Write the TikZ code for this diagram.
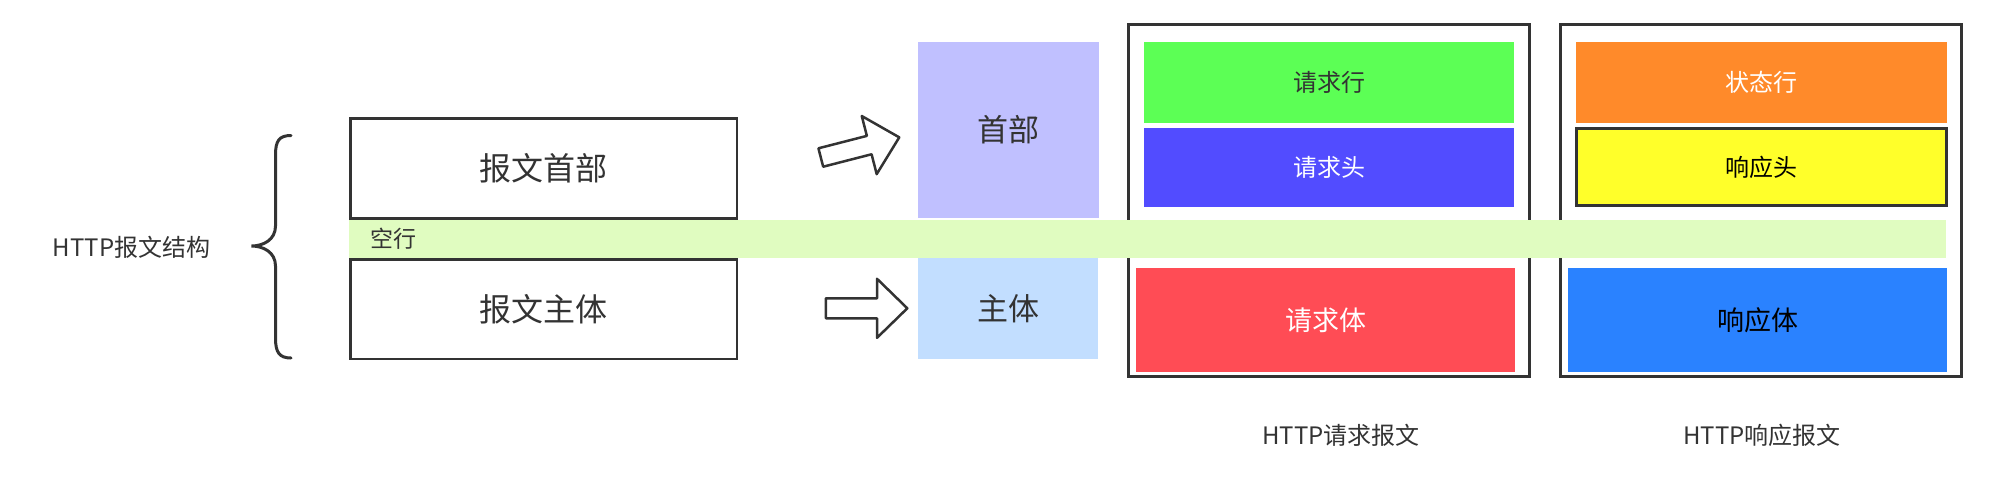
\documentclass[tikz,border=0pt]{standalone}
\usepackage{fontspec}
\newfontfamily\cjk{Noto Sans CJK SC}
\definecolor{ink}{HTML}{333333}
\definecolor{cGreen}{HTML}{5CFF55}
\definecolor{cBlue}{HTML}{524CFF}
\definecolor{cRed}{HTML}{FF4C55}
\definecolor{cOrange}{HTML}{FF8A2A}
\definecolor{cYellow}{HTML}{FFFF2A}
\definecolor{cResp}{HTML}{2A82FF}
\definecolor{cHead}{HTML}{C0C0FF}
\definecolor{cBody}{HTML}{C2DEFF}
\definecolor{cBand}{HTML}{E0FCC0}
\tikzset{
  cn/.style={font=\cjk\fontsize{#1pt}{#1pt}\selectfont, text=ink},
  sz/.style 2 args={minimum width=#1pt, minimum height=#2pt, inner sep=0pt, outer sep=0pt},
  whitebox/.style={draw=ink, line width=2.5pt, fill=white},
  msgframe/.style={draw=ink, line width=3pt},
  colpart/.style={fill=#1, draw=none},
  hollowarrow/.style={draw=ink, line width=2.5pt, fill=white, line join=round},
  bracepath/.style={draw=ink, line width=3pt, line cap=round},
}
\begin{document}
\begin{tikzpicture}[x=1pt,y=-1pt]
\useasboundingbox[fill=white] (0,0) rectangle (2012,496);
% left structure
\node[whitebox, sz={386.5}{99.6}, cn=32] (hdr) at (543.8,168.5) {报文首部};
\node[whitebox, sz={386.5}{99.5}, cn=32] (body) at (543.8,309) {报文主体};
% header / body blocks
\node[colpart=cHead, sz={181}{176.6}, cn=31] (head) at (1008.2,130) {首部};
\node[colpart=cBody, sz={180}{101.3}, cn=31] (main) at (1008,308.7) {主体};
% message frames
\node[msgframe, sz={401.3}{352}] (req) at (1328.85,200.8) {};
\node[msgframe, sz={401}{352}] (resp) at (1761.3,200.8) {};
% request parts
\node[colpart=cGreen, sz={370.6}{80.4}, cn=24] (reqline) at (1329,82.5) {请求行};
\node[colpart=cBlue, sz={370.6}{79.3}, cn=24, text=white] (reqhead) at (1329,167.65) {请求头};
\node[colpart=cRed, sz={379.3}{103.4}, cn=27, text=white] (reqbody) at (1325.65,320) {请求体};
% response parts
\node[colpart=cOrange, sz={370.6}{80.4}, cn=24, text=white] (status) at (1761.3,82.5) {状态行};
\node[colpart=cYellow, draw=ink, line width=3pt, sz={369.6}{77.3}, cn=24, text=black] (resphead) at (1761.3,167.15) {响应头};
\node[colpart=cResp, sz={379.3}{103.4}, cn=27, text=black] (respbody) at (1757.65,320) {响应体};
% blank line band
\node[colpart=cBand, sz={1596.7}{37.5}] (band) at (1147.6,238.75) {};
\node[cn=23, anchor=west, inner sep=0pt] (blank) at (370,238.5) {空行};
% arrows
\draw[hollowarrow, shift={(820.8,157.5)}, rotate=14.4]
  (0,-9.5) -- (50,-9.5) -- (50,-30) -- (81,0) -- (50,30) -- (50,9.5) -- (0,9.5) -- cycle;
\draw[hollowarrow, shift={(825.8,308.3)}]
  (0,-10) -- (51.2,-10) -- (51.2,-29.5) -- (81.5,0) -- (51.2,29.5) -- (51.2,10) -- (0,10) -- cycle;
% brace
\draw[bracepath] (291,135.5) .. controls (279,135.5) and (275.5,141) .. (275.5,155)
  -- (275.5,226) .. controls (275.5,240) and (263,246) .. (251.5,246)
  .. controls (263,246) and (275.5,252) .. (275.5,266)
  -- (275.5,338) .. controls (275.5,352) and (279,358) .. (291,358);
% labels
\node[cn=24] (title) at (131.6,247) {HTTP报文结构};
\node[cn=24] (reqlbl) at (1341,435) {HTTP请求报文};
\node[cn=24] (resplbl) at (1762,435) {HTTP响应报文};
\end{tikzpicture}
\end{document}
